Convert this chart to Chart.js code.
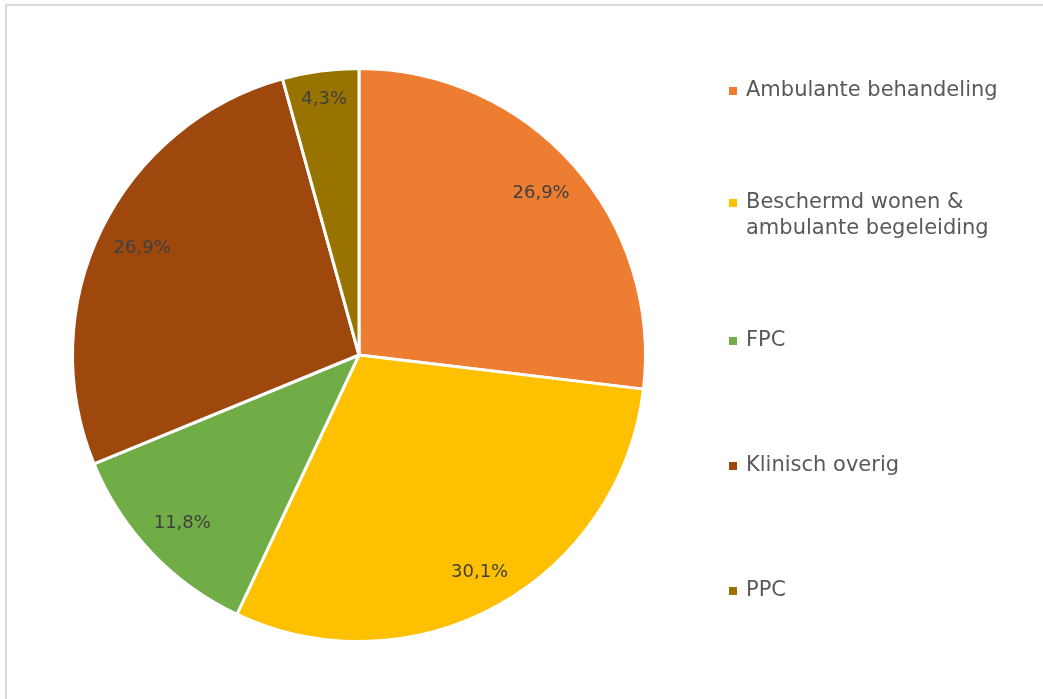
<!DOCTYPE html>
<html>
<head>
<meta charset="utf-8">
<script src="https://cdn.jsdelivr.net/npm/chart.js@4/dist/chart.umd.min.js"></script>
<style>
  html, body { margin: 0; padding: 0; background: #fff; }
  #wrap { width: 1043px; height: 699px; position: relative; }
</style>
</head>
<body>
<div id="wrap"><canvas id="pieChart"></canvas></div>
<script>
const categories = [
    'Ambulante behandeling',
    ['Beschermd wonen &', 'ambulante begeleiding'],
    'FPC',
    'Klinisch overig',
    'PPC'
];
const shares = [26.9, 30.1, 11.8, 26.9, 4.3];
const sliceColors = ['#ED7D31', '#FFC000', '#70AD47', '#9E480E', '#997300'];

const fontFamily = '"DejaVu Sans", Verdana, sans-serif';

// frame + white background
const framePlugin = {
    id: 'frame',
    beforeDraw(chart) {
        const ctx = chart.ctx;
        ctx.save();
        ctx.fillStyle = '#ffffff';
        ctx.fillRect(0, 0, chart.width, chart.height);
        ctx.strokeStyle = '#d9d9d9';
        ctx.lineWidth = 2;
        ctx.strokeRect(6, 5, chart.width + 20, chart.height + 20);
        ctx.restore();
    }
};

// percentage labels inside slices, box kept a fixed gap from the rim
const sliceLabels = {
    id: 'sliceLabels',
    afterDatasetsDraw(chart) {
        const ctx = chart.ctx;
        const meta = chart.getDatasetMeta(0);
        ctx.save();
        ctx.font = '18px ' + fontFamily;
        ctx.fillStyle = '#404040';
        ctx.textAlign = 'center';
        ctx.textBaseline = 'middle';
        meta.data.forEach((arc, i) => {
            const p = arc.getProps(['x', 'y', 'startAngle', 'endAngle', 'outerRadius'], true);
            const mid = (p.startAngle + p.endAngle) / 2;
            const txt = shares[i].toFixed(1).replace('.', ',') + '%';
            const w = ctx.measureText(txt).width, h = 20;
            const c = Math.cos(mid), s = Math.sin(mid);
            const half = (w / 2) * Math.abs(c) + (h / 2) * Math.abs(s);
            const r = p.outerRadius - 15 - half;
            ctx.fillText(txt, p.x + c * r, p.y + s * r);
        });
        ctx.restore();
    }
};

// legend on the right, evenly spaced
const sideLegend = {
    id: 'sideLegend',
    afterDraw(chart) {
        const ctx = chart.ctx;
        const x0 = 729, textX = 746, top = 91, step = 125, lineH = 26;
        ctx.save();
        ctx.font = '21px ' + fontFamily;
        ctx.textBaseline = 'middle';
        ctx.textAlign = 'left';
        categories.forEach((label, i) => {
            const lines = Array.isArray(label) ? label : [label];
            const cy = top + i * step;
            const firstY = cy - (lines.length - 1) * lineH / 2;
            ctx.fillStyle = sliceColors[i];
            ctx.fillRect(x0, firstY - 4, 8, 8);
            ctx.fillStyle = '#595959';
            lines.forEach((ln, j) => ctx.fillText(ln, textX, firstY + j * lineH));
        });
        ctx.restore();
    }
};

const ctx = document.getElementById('pieChart').getContext('2d');
new Chart(ctx, {
    type: 'pie',
    data: {
        labels: categories.map(c => Array.isArray(c) ? c.join(' ') : c),
        datasets: [{
            data: shares,
            backgroundColor: sliceColors,
            borderColor: '#ffffff',
            borderWidth: 3
        }]
    },
    options: {
        responsive: true,
        maintainAspectRatio: false,
        animation: false,
        layout: { padding: { left: 70, right: 395, top: 67, bottom: 56 } },
        plugins: {
            legend: { display: false },
            tooltip: { enabled: false }
        }
    },
    plugins: [framePlugin, sliceLabels, sideLegend]
});
</script>
</body>
</html>
